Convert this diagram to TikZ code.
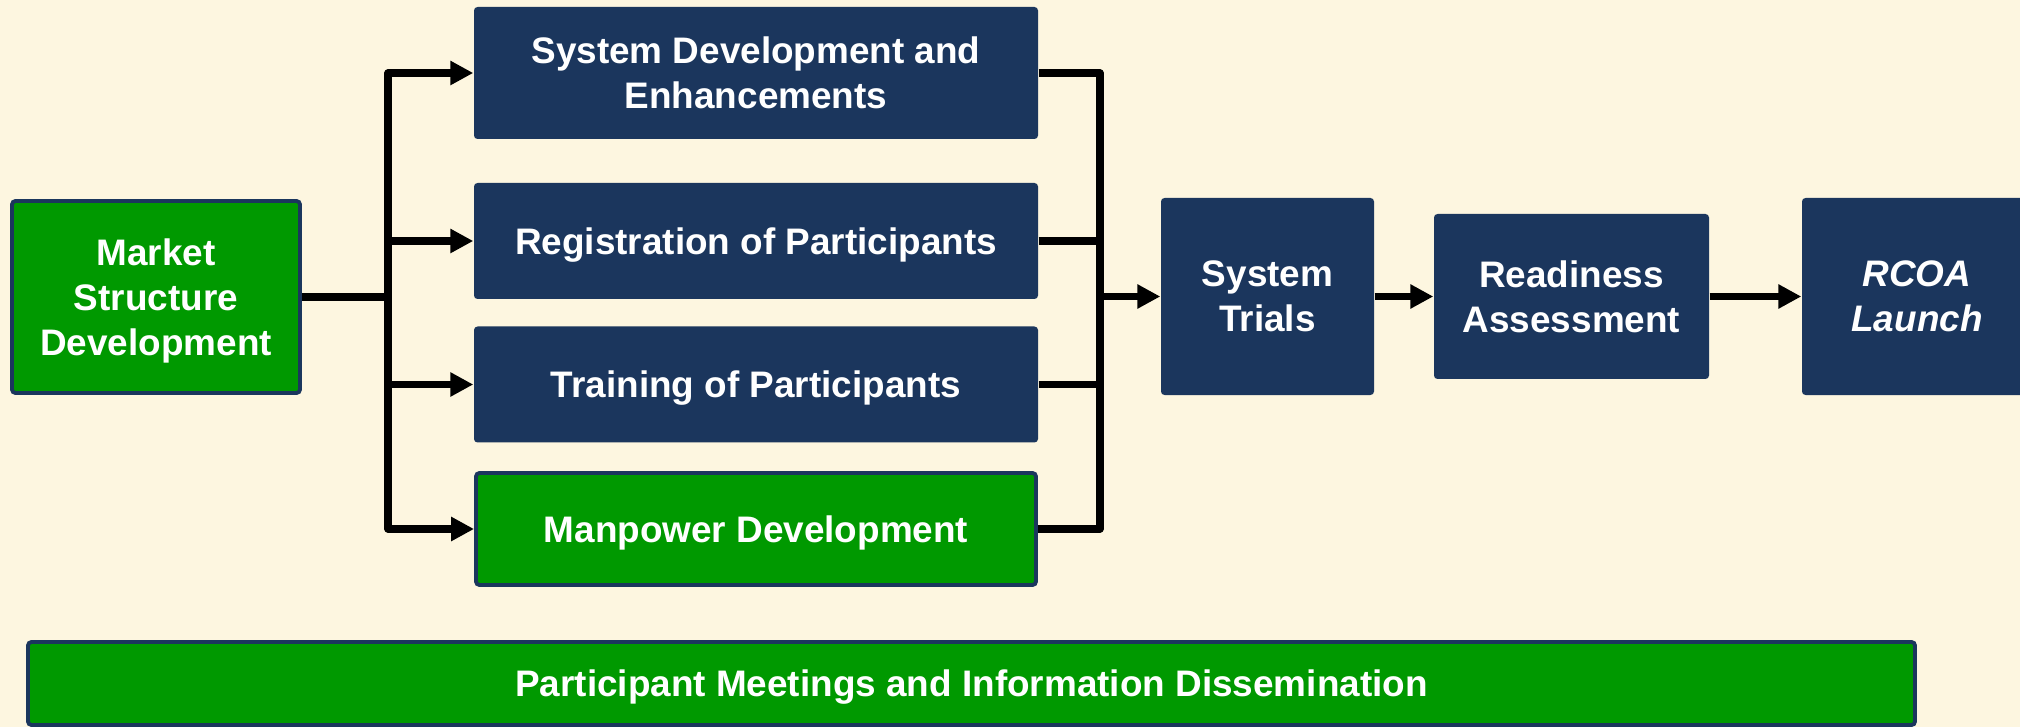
\documentclass[tikz,border=0pt]{standalone}
\usepackage{fontspec}
\setmainfont{Liberation Sans}
\definecolor{navybox}{RGB}{27, 54, 93}
\definecolor{greenbox}{RGB}{0, 153, 0}
\definecolor{creambg}{RGB}{253, 246, 224}
\usepackage{tikz}
\usetikzlibrary{arrows.meta, positioning, calc}

\begin{document}
\begin{tikzpicture}[
  phase/.style={fill=navybox, rounded corners=1pt, align=center, inner sep=0pt, text=white, text depth=0pt,
    font=\bfseries\fontsize{10.5}{12.8}\selectfont},
  greenphase/.style={phase, fill=greenbox, draw=navybox, line width=1.1pt},
  wire/.style={line width=2pt, line join=round},
  arrow/.style={wire, -{Triangle[length=0.23cm, width=0.23cm]}}
]
  \useasboundingbox (0, 0) rectangle (20.2, 7.27);
  \fill[creambg] (0, 0) rectangle (20.2, 7.27);

  % Start
  \node[greenphase, minimum width=2.88cm, minimum height=1.92cm] (market) at (1.56, 4.30) {Market\\Structure\\Development};

  % Parallel work streams
  \node[phase, minimum width=5.64cm, minimum height=1.32cm] (sysdev) at (7.56, 6.54) {System Development and\\Enhancements};
  \node[phase, minimum width=5.64cm, minimum height=1.16cm] (reg) at (7.56, 4.86) {Registration of Participants};
  \node[phase, minimum width=5.64cm, minimum height=1.16cm] (train) at (7.56, 3.425) {Training of Participants};
  \node[greenphase, minimum width=5.60cm, minimum height=1.12cm] (manpower) at (7.56, 1.98) {Manpower Development};

  % Final steps
  \node[phase, minimum width=2.13cm, minimum height=1.97cm] (trials) at (12.675, 4.305) {System\\Trials};
  \node[phase, minimum width=2.75cm, minimum height=1.65cm] (ready) at (15.715, 4.305) {Readiness\\Assessment};
  \node[phase, minimum width=2.30cm, minimum height=1.97cm] (rcoa) at (19.17, 4.305) {\textit{RCOA}\\\textit{Launch}};

  % Ongoing
  \node[greenphase, minimum width=18.87cm, minimum height=0.83cm] (meetings) at (9.715, 0.435) {Participant Meetings and Information Dissemination};

  \coordinate (split) at (3.88, 4.30);
  \coordinate (join) at (11.00, 4.305);

  \draw[wire] (market) -- (split);
  \draw[arrow] (split) |- (sysdev);
  \draw[arrow] (split) |- (reg);
  \draw[arrow] (split) |- (train);
  \draw[arrow] (split) |- (manpower);

  \draw[wire] (sysdev) -| (join);
  \draw[wire] (reg) -| (join);
  \draw[wire] (train) -| (join);
  \draw[wire] (manpower) -| (join);
  \draw[arrow] (join) -- (trials);
  \draw[arrow] (trials) -- (ready);
  \draw[arrow] (ready) -- (rcoa);
\end{tikzpicture}
\end{document}
